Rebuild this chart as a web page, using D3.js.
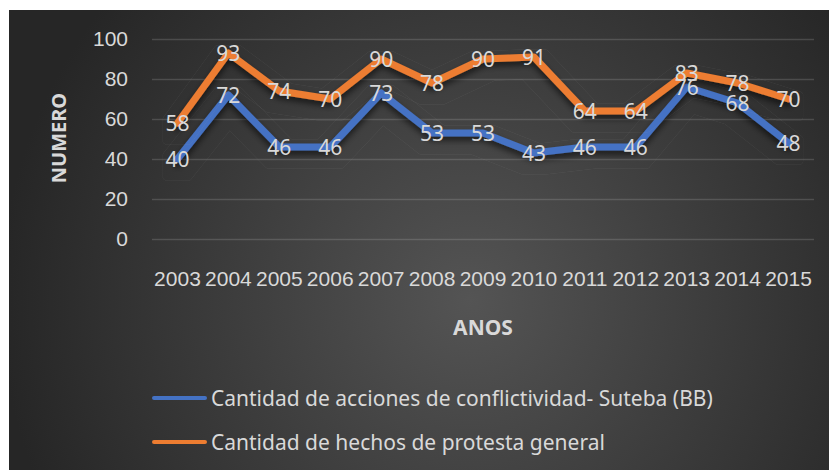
<!DOCTYPE html>
<html>
<head>
<meta charset="utf-8">
<script src="https://cdn.jsdelivr.net/npm/d3@7"></script>
<style>
  html, body { margin: 0; padding: 0; background: #fff; }
  svg { display: block; font-family: "Noto Sans", "Open Sans", sans-serif; }
</style>
</head>
<body>
<div id="chart"></div>
<script>
const years = ['2003', '2004', '2005', '2006', '2007', '2008', '2009', '2010', '2011', '2012', '2013', '2014', '2015'];
const suteba = [40, 72, 46, 46, 73, 53, 53, 43, 46, 46, 76, 68, 48];
const protesta = [58, 93, 74, 70, 90, 78, 90, 91, 64, 64, 83, 78, 70];
const yTicks = [0, 20, 40, 60, 80, 100];
const seriesNames = ['Cantidad de acciones de conflictividad- Suteba (BB)', 'Cantidad de hechos de protesta general'];
const seriesColors = ['#4472C4', '#ED7D31'];

const W = 829, H = 470;
const margin = {top: 39, right: 15, bottom: 231, left: 152};
const textColor = '#d9d9d9';
const fs = 21;

const svg = d3.select('#chart').append('svg')
  .attr('width', W)
  .attr('height', H);

const defs = svg.append('defs');

// dark radial background like the excel theme
const grad = defs.append('radialGradient')
  .attr('id', 'bg')
  .attr('gradientUnits', 'userSpaceOnUse')
  .attr('cx', 470).attr('cy', 300).attr('r', 470);
grad.append('stop').attr('offset', '0%').attr('stop-color', '#545454');
grad.append('stop').attr('offset', '100%').attr('stop-color', '#262626');

// line shadow + thin offset outline
const filt = defs.append('filter')
  .attr('id', 'lineFx')
  .attr('filterUnits', 'userSpaceOnUse')
  .attr('x', 0).attr('y', 0).attr('width', W).attr('height', H);
filt.append('feMorphology').attr('in', 'SourceAlpha').attr('operator', 'dilate').attr('radius', 11).attr('result', 'd1');
filt.append('feMorphology').attr('in', 'SourceAlpha').attr('operator', 'dilate').attr('radius', 10.5).attr('result', 'd2');
filt.append('feComposite').attr('in', 'd1').attr('in2', 'd2').attr('operator', 'out').attr('result', 'ring');
filt.append('feOffset').attr('in', 'ring').attr('dy', 7).attr('result', 'ringOff');
filt.append('feFlood').attr('flood-color', '#bfbfbf').attr('flood-opacity', 0.22).attr('result', 'ringCol');
filt.append('feComposite').attr('in', 'ringCol').attr('in2', 'ringOff').attr('operator', 'in').attr('result', 'outline');
filt.append('feGaussianBlur').attr('in', 'SourceAlpha').attr('stdDeviation', 3).attr('result', 'blur');
filt.append('feOffset').attr('in', 'blur').attr('dy', 4).attr('result', 'blurOff');
filt.append('feFlood').attr('flood-color', '#000').attr('flood-opacity', 0.6).attr('result', 'shCol');
filt.append('feComposite').attr('in', 'shCol').attr('in2', 'blurOff').attr('operator', 'in').attr('result', 'shadow');
const merge = filt.append('feMerge');
merge.append('feMergeNode').attr('in', 'outline');
merge.append('feMergeNode').attr('in', 'shadow');
merge.append('feMergeNode').attr('in', 'SourceGraphic');

svg.append('rect')
  .attr('x', 9).attr('y', 10)
  .attr('width', W - 9).attr('height', H - 10)
  .attr('fill', 'url(#bg)');

const x = d3.scaleBand()
  .domain(years)
  .range([margin.left, W - margin.right]);

const y = d3.scaleLinear()
  .domain([0, 100])
  .range([H - margin.bottom, margin.top]);

// y axis with gridlines
const yAxis = svg.append('g')
  .attr('transform', `translate(${margin.left},0)`)
  .call(d3.axisLeft(y).tickValues(yTicks).tickSize(-(W - margin.left - margin.right)).tickPadding(24));
yAxis.select('.domain').remove();
yAxis.selectAll('line').attr('stroke', '#d9d9d9').attr('stroke-opacity', 0.18).attr('stroke-width', 1.5);
yAxis.selectAll('text').attr('fill', textColor).attr('font-size', fs).attr('font-family', null);

// x axis labels
const xAxis = svg.append('g')
  .attr('transform', `translate(0,${y(0)})`)
  .call(d3.axisBottom(x).tickSize(0).tickPadding(32));
xAxis.select('.domain').remove();
xAxis.selectAll('text').attr('fill', textColor).attr('font-size', fs).attr('font-family', null);

// axis titles
svg.append('text')
  .attr('transform', 'translate(58,138) rotate(-90)')
  .attr('text-anchor', 'middle')
  .attr('dominant-baseline', 'central')
  .attr('fill', textColor)
  .attr('font-size', 20)
  .attr('font-weight', 'bold')
  .text('NUMERO');

svg.append('text')
  .attr('x', 483).attr('y', 327)
  .attr('text-anchor', 'middle')
  .attr('dominant-baseline', 'central')
  .attr('fill', textColor)
  .attr('font-size', 21)
  .attr('font-weight', 'bold')
  .text('ANOS');

const line = d3.line()
  .x((d, i) => x(years[i]) + x.bandwidth() / 2)
  .y(d => y(d));

const series = [suteba, protesta];

series.forEach((vals, si) => {
  svg.append('path')
    .datum(vals)
    .attr('d', line)
    .attr('fill', 'none')
    .attr('stroke', seriesColors[si])
    .attr('stroke-width', 7)
    .attr('stroke-linejoin', 'round')
    .attr('stroke-linecap', 'round')
    .attr('filter', 'url(#lineFx)');
});

series.forEach((vals) => {
  svg.append('g').selectAll('text')
    .data(vals)
    .join('text')
    .attr('x', (d, i) => x(years[i]) + x.bandwidth() / 2)
    .attr('y', d => y(d))
    .attr('text-anchor', 'middle')
    .attr('dominant-baseline', 'central')
    .attr('fill', textColor)
    .attr('font-size', fs)
    .text(d => d);
});

// legend
const legend = svg.append('g');
seriesNames.forEach((name, i) => {
  const ly = 398 + i * 44;
  legend.append('line')
    .attr('x1', 154).attr('x2', 205)
    .attr('y1', ly).attr('y2', ly)
    .attr('stroke', seriesColors[i])
    .attr('stroke-width', 4)
    .attr('stroke-linecap', 'round');
  legend.append('text')
    .attr('x', 211).attr('y', ly)
    .attr('dominant-baseline', 'central')
    .attr('fill', textColor)
    .attr('font-size', fs)
    .text(name);
});
</script>
</body>
</html>
